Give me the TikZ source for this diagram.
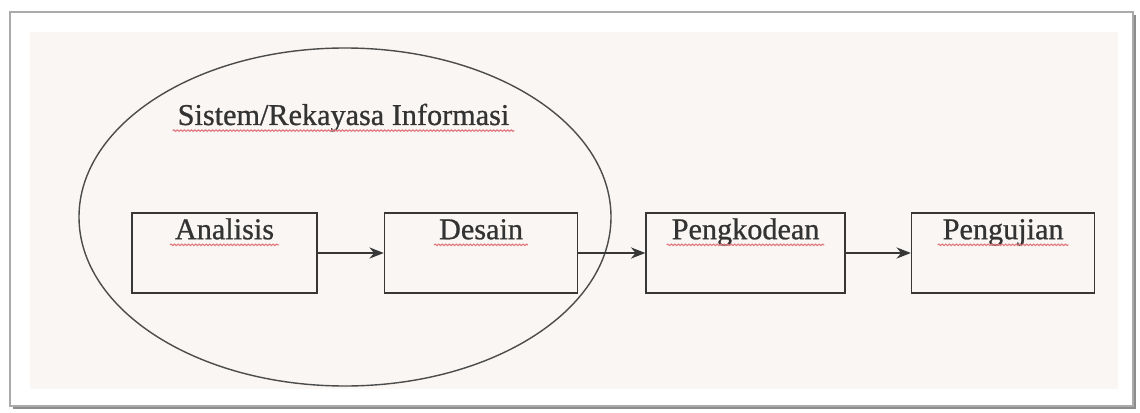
\documentclass[tikz,border=0pt]{standalone}
\definecolor{PaperBg}{RGB}{249, 246, 244}
\definecolor{FrameGray}{RGB}{170, 170, 170}
\definecolor{ShadowGray}{RGB}{140, 140, 140}
\definecolor{LineDark}{RGB}{55, 55, 55}
\definecolor{SpellRed}{RGB}{225, 120, 125}
\usepackage{fontspec}
\setmainfont{Liberation Serif}
\newfontfamily\labelfont{Liberation Serif}[FakeBold=0.8]
\usepackage{tikz}
\usetikzlibrary{arrows.meta,positioning,shapes.geometric,decorations.pathmorphing}

\begin{document}
\begin{tikzpicture}[
    node distance=1.65cm,
    box/.style={draw=LineDark, line width=1.1pt, fill=PaperBg, minimum height=2cm},
    lbl/.style={anchor=base, font=\labelfont\fontsize{21.5}{26}\selectfont, text=black!80},
    spell/.style={SpellRed, line width=0.8pt, decorate, decoration={snake, amplitude=0.5pt, segment length=2.5pt}},
    arr/.style={-{Stealth[length=3.6mm, width=2.8mm]}, line width=1.1pt, LineDark}
]
    \useasboundingbox (0,0) rectangle (28.5,10.3);
    % frame and paper
    \fill[ShadowGray] (0.33,0.08) rectangle (28.4,9.92);
    \draw[FrameGray, fill=white, line width=0.8pt] (0.25,0.15) rectangle (28.325,10.0);
    \fill[PaperBg] (0.75,0.575) rectangle (27.95,9.5);

    \node[draw=black!70, line width=1pt, ellipse, minimum width=13.3cm, minimum height=8.45cm] (sys) at (8.625,4.875) {};
    \node[lbl] (sysT) at (8.5875,7.175) {Sistem/Rekayasa Informasi};

    \node[box, minimum width=4.625cm] (ana) at (5.6125,3.975) {};
    \node[box, minimum width=4.825cm, right=of ana] (des) {};
    \node[box, minimum width=4.975cm, right=1.675cm of des] (kode) {};
    \node[box, minimum width=4.575cm, right=1.625cm of kode] (uji) {};

    \node[lbl] (anaT) at ([yshift=-0.675cm]ana.north) {Analisis};
    \node[lbl] (desT) at ([yshift=-0.675cm]des.north) {Desain};
    \node[lbl] (kodeT) at ([yshift=-0.675cm]kode.north) {Pengkodean};
    \node[lbl] (ujiT) at ([yshift=-0.675cm]uji.north) {Pengujian};

    % spell-check underlines
    \foreach \t in {sysT, anaT, desT, kodeT, ujiT}
        \draw[spell] ([yshift=-0.14cm]\t.base west) -- ([yshift=-0.14cm]\t.base east);

    \draw[arr] (ana) -- (des);
    \draw[arr] (des) -- (kode);
    \draw[arr] (kode) -- (uji);
\end{tikzpicture}
\end{document}
